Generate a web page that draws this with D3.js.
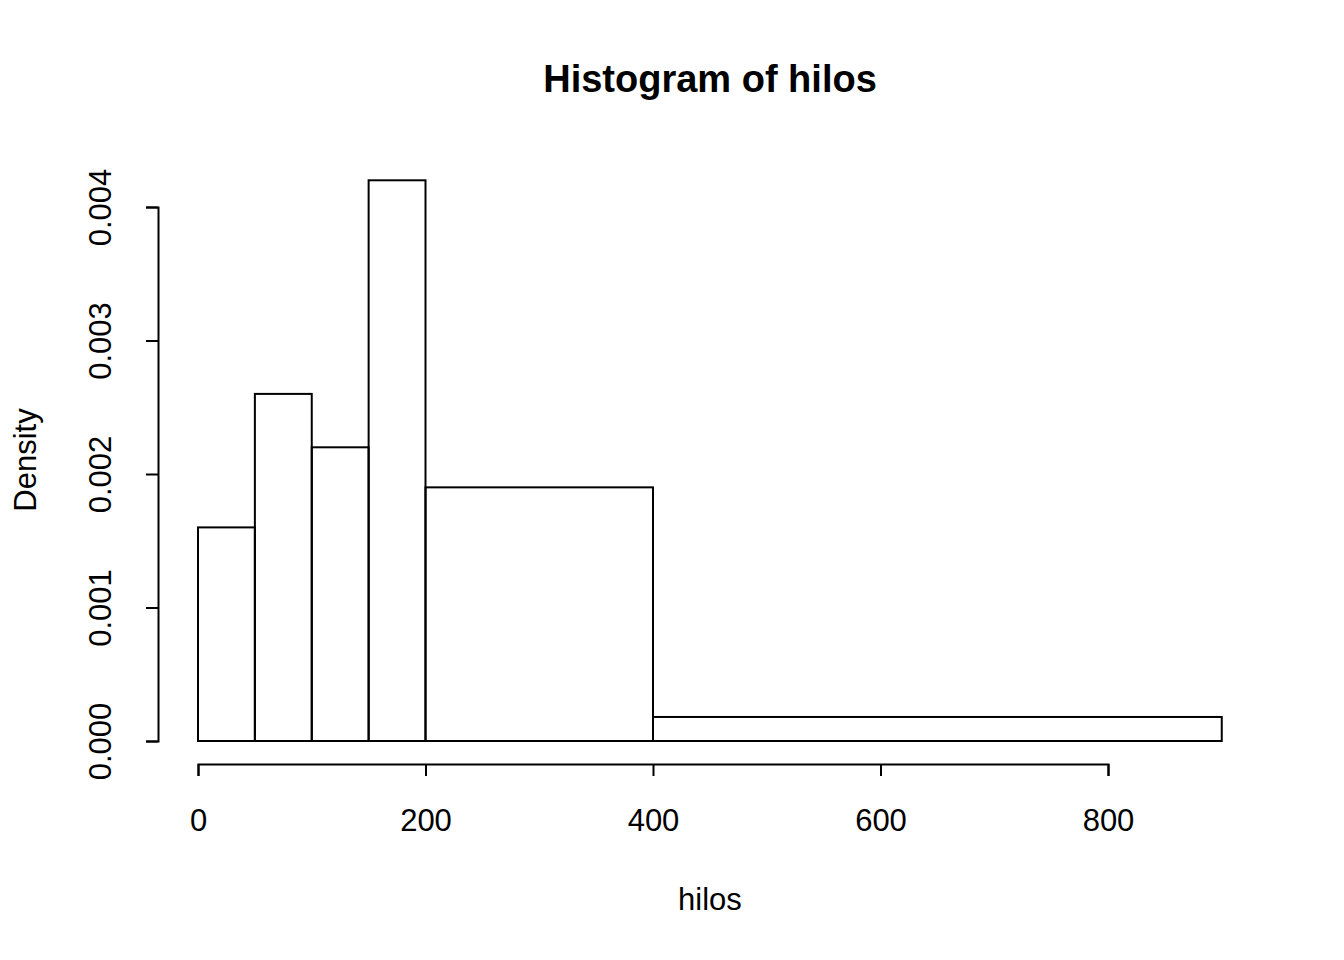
<!DOCTYPE html>
<html><head><meta charset="utf-8">
<script src="https://cdn.jsdelivr.net/npm/d3@7"></script>
<style>body{margin:0;background:#fff}text{font-family:"Liberation Sans",Arial,sans-serif}</style>
</head><body>
<script>
var breaks = [0, 50, 100, 150, 200, 400, 900];
var density = [0.0016, 0.0026, 0.0022, 0.0042, 0.0019, 0.00018];
var xTicks = [0, 200, 400, 600, 800];
var yTicks = [0, 0.001, 0.002, 0.003, 0.004];

var svg = d3.select("body").append("svg").attr("width", 1344).attr("height", 960);

var x = d3.scaleLinear().domain([0, 800]).range([198, 1108]);
var y = d3.scaleLinear().domain([0, 0.004]).range([741, 207]);

var bins = density.map(function(d, i) { return {x0: breaks[i], x1: breaks[i + 1], d: d}; });

svg.append("g").selectAll("rect").data(bins).enter().append("rect")
  .attr("x", function(b) { return x(b.x0); })
  .attr("y", function(b) { return y(b.d); })
  .attr("width", function(b) { return x(b.x1) - x(b.x0); })
  .attr("height", function(b) { return y(0) - y(b.d); })
  .attr("fill", "none").attr("stroke", "#000").attr("stroke-width", 2);

var xAxis = svg.append("g").attr("transform", "translate(0,764)")
  .call(d3.axisBottom(x).tickValues(xTicks).tickSize(12).tickPadding(33).tickFormat(d3.format("d")));
xAxis.selectAll("text").attr("font-size", 31);

var yAxis = svg.append("g").attr("transform", "translate(158,0)")
  .call(d3.axisLeft(y).tickValues(yTicks).tickSize(12).tickFormat(d3.format(".3f")));
yAxis.selectAll(".tick text").attr("font-size", 31)
  .attr("x", 0).attr("y", 0).attr("dy", "0.35em").attr("text-anchor", "middle")
  .attr("transform", "translate(-58,0) rotate(-90)");

svg.selectAll(".domain, .tick line").attr("stroke", "#000").attr("stroke-width", 2);

svg.append("text").attr("x", 710).attr("y", 92).attr("text-anchor", "middle")
  .attr("font-size", 38).attr("font-weight", "bold").text("Histogram of hilos");
svg.append("text").attr("x", 710).attr("y", 910).attr("text-anchor", "middle")
  .attr("font-size", 31).text("hilos");
svg.append("text").attr("transform", "translate(36,460) rotate(-90)").attr("text-anchor", "middle")
  .attr("font-size", 31).text("Density");
</script>
</body></html>
